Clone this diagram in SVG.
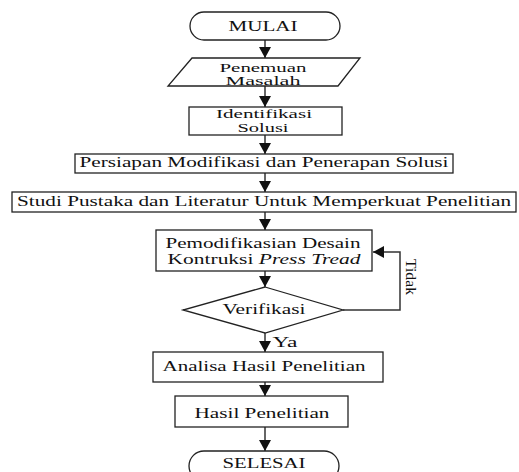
<svg xmlns="http://www.w3.org/2000/svg" width="519" height="472" viewBox="0 0 519 472">
<style>
.s{fill:#fff;stroke:#222;stroke-width:1.3}
.t{font-family:"Liberation Serif","Times New Roman",serif;font-size:14px;fill:#111;text-anchor:middle}
.m{font-size:13.5px}
.n{font-size:12.5px}
.c{fill:none;stroke:#333;stroke-width:1.5}
</style>
<defs>
<marker id="ah" markerUnits="userSpaceOnUse" markerWidth="12" markerHeight="12" viewBox="0 0 12 12" refX="11" refY="6" orient="auto">
<path d="M0,0 L11,6 L0,12 Z" fill="#111"/>
</marker>
</defs>
<rect width="519" height="472" fill="#fff"/>
<g id="connectors">
<line class="c" x1="265" y1="40" x2="265" y2="58" marker-end="url(#ah)"/>
<line class="c" x1="265" y1="86" x2="265" y2="107" marker-end="url(#ah)"/>
<line class="c" x1="265" y1="135" x2="265" y2="154" marker-end="url(#ah)"/>
<line class="c" x1="265" y1="173" x2="265" y2="192" marker-end="url(#ah)"/>
<line class="c" x1="265" y1="212" x2="265" y2="230" marker-end="url(#ah)"/>
<line class="c" x1="265" y1="271" x2="265" y2="287" marker-end="url(#ah)"/>
<line class="c" x1="265" y1="333" x2="265" y2="352" marker-end="url(#ah)"/>
<line class="c" x1="265" y1="382" x2="265" y2="396" marker-end="url(#ah)"/>
<line class="c" x1="265" y1="427" x2="265" y2="451" marker-end="url(#ah)"/>
<polyline class="c" points="343,310 400,310 400,252 373,252" marker-end="url(#ah)"/>
<text class="t" transform="translate(406,277) rotate(90)" textLength="36" lengthAdjust="spacingAndGlyphs">Tidak</text>
<text class="t" x="285" y="347" textLength="25" lengthAdjust="spacingAndGlyphs">Ya</text>
</g>
<g id="mulai">
<rect class="s" x="190" y="12" width="150" height="28" rx="14"/>
<text class="t" x="263" y="31" textLength="69" lengthAdjust="spacingAndGlyphs">MULAI</text>
</g>
<g id="penemuan">
<polygon class="s" points="192,58 360,58 338,86 168,86"/>
<text class="t n" x="263" y="72" textLength="87" lengthAdjust="spacingAndGlyphs">Penemuan</text>
<text class="t n" x="263" y="85" textLength="75" lengthAdjust="spacingAndGlyphs">Masalah</text>
</g>
<g id="identifikasi">
<rect class="s" x="189" y="107" width="153" height="28"/>
<text class="t m" x="264" y="118" textLength="96" lengthAdjust="spacingAndGlyphs">Identifikasi</text>
<text class="t m" x="263" y="132" textLength="51" lengthAdjust="spacingAndGlyphs">Solusi</text>
</g>
<g id="persiapan">
<rect class="s" x="75" y="154" width="378" height="19"/>
<text class="t" x="264" y="167" textLength="369" lengthAdjust="spacingAndGlyphs">Persiapan Modifikasi dan Penerapan Solusi</text>
</g>
<g id="studi">
<rect class="s" x="12" y="192" width="504" height="20"/>
<text class="t" x="264" y="206" textLength="494" lengthAdjust="spacingAndGlyphs">Studi Pustaka dan Literatur Untuk Memperkuat Penelitian</text>
</g>
<g id="pemodifikasian">
<rect class="s" x="156" y="230" width="216" height="41"/>
<text class="t" x="263" y="248" textLength="195" lengthAdjust="spacingAndGlyphs">Pemodifikasian Desain</text>
<text class="t" x="264" y="264" textLength="193" lengthAdjust="spacingAndGlyphs">Kontruksi <tspan font-style="italic">Press Tread</tspan></text>
</g>
<g id="verifikasi">
<polygon class="s" points="265,287 343,310 265,333 183,310"/>
<text class="t" x="264" y="314" textLength="83" lengthAdjust="spacingAndGlyphs">Verifikasi</text>
</g>
<g id="analisa">
<rect class="s" x="153" y="352" width="230" height="30"/>
<text class="t" x="264" y="371" textLength="203" lengthAdjust="spacingAndGlyphs">Analisa Hasil Penelitian</text>
</g>
<g id="hasil">
<rect class="s" x="175" y="396" width="173" height="31"/>
<text class="t" x="262" y="418" textLength="135" lengthAdjust="spacingAndGlyphs">Hasil Penelitian</text>
</g>
<g id="selesai">
<rect class="s" x="189" y="451" width="150" height="30" rx="15"/>
<text class="t" x="264" y="468" textLength="83" lengthAdjust="spacingAndGlyphs">SELESAI</text>
</g>
</svg>
